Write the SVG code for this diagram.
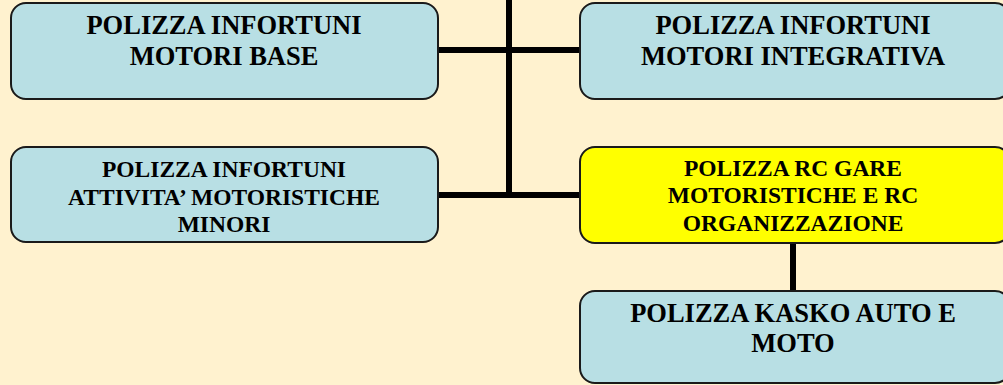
<svg xmlns="http://www.w3.org/2000/svg" width="1003" height="385" viewBox="0 0 1003 385">
<style>
.box{fill:#b8dfe4;stroke:#1a1a1a;stroke-width:2}
.yel{fill:#ffff00;stroke:#1a1a1a;stroke-width:2}
.con{stroke:#000;stroke-width:6;fill:none}
text{font-family:"Liberation Serif","Times New Roman",serif;font-weight:bold;fill:#000;text-anchor:middle}
.l{font-size:26.5px}
.s{font-size:23.5px}
</style>
<rect width="1003" height="385" fill="#fff2cf"/>
<g id="connectors">
<line class="con" x1="509" y1="0" x2="509" y2="198"/>
<line class="con" x1="438" y1="50" x2="580" y2="50"/>
<line class="con" x1="438" y1="195" x2="512" y2="195"/>
<line class="con" x1="509" y1="195" x2="580" y2="195"/>
<line class="con" x1="793" y1="243" x2="793" y2="291"/>
</g>
<g id="n1">
<rect class="box" x="11" y="3" width="427" height="96" rx="15"/>
<text class="l" x="224" y="34">POLIZZA INFORTUNI</text>
<text class="l" x="224" y="65">MOTORI BASE</text>
</g>
<g id="n2">
<rect class="box" x="580" y="3" width="430" height="96" rx="15"/>
<text class="l" x="793" y="34">POLIZZA INFORTUNI</text>
<text class="l" x="793" y="65">MOTORI INTEGRATIVA</text>
</g>
<g id="n3">
<rect class="box" x="11" y="147" width="427" height="95" rx="15"/>
<text class="s" x="224" y="177">POLIZZA INFORTUNI</text>
<text class="s" x="224" y="205">ATTIVITA’ MOTORISTICHE</text>
<text class="s" x="224" y="232">MINORI</text>
</g>
<g id="n4">
<rect class="yel" x="580" y="147" width="430" height="96" rx="15"/>
<text class="s" x="793" y="176">POLIZZA RC GARE</text>
<text class="s" x="793" y="203">MOTORISTICHE E RC</text>
<text class="s" x="793" y="231">ORGANIZZAZIONE</text>
</g>
<g id="n5">
<rect class="box" x="580" y="291" width="430" height="92" rx="15"/>
<text class="l" x="793" y="322">POLIZZA KASKO AUTO E</text>
<text class="l" x="793" y="352">MOTO</text>
</g>
</svg>
